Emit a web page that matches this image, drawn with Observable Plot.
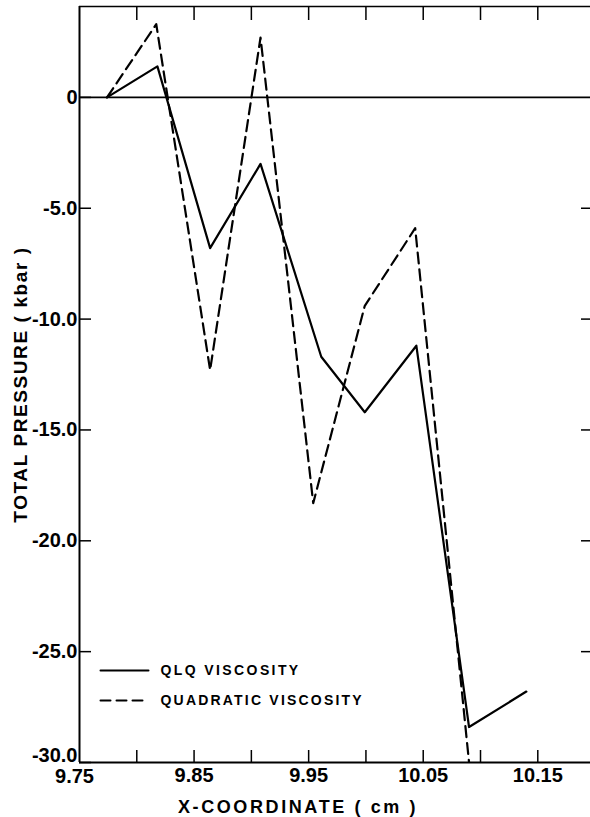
<!DOCTYPE html>
<html><head><meta charset="utf-8">
<script src="https://cdn.jsdelivr.net/npm/d3@7"></script>
<script src="https://cdn.jsdelivr.net/npm/@observablehq/plot@0.6"></script>
<style>
body{margin:0;background:#fff}
svg text{font-family:"Liberation Sans",Arial,sans-serif;fill:#000;font-weight:bold}
</style></head><body><div id="chart"></div>
<script>
// QLQ viscosity (solid)
const xQLQ = [9.774, 9.818, 9.864, 9.908, 9.961, 9.999, 10.044, 10.090, 10.140];
const yQLQ = [0, 1.4, -6.8, -3.0, -11.7, -14.2, -11.2, -28.4, -26.8];
// Quadratic viscosity (dashed)
const xQuad = [9.774, 9.817, 9.864, 9.908, 9.954, 9.999, 10.043, 10.090];
const yQuad = [0, 3.3, -12.3, 2.7, -18.3, -9.4, -5.9, -30.0];

const seriesNames = ["QLQ VISCOSITY", "QUADRATIC VISCOSITY"];
const xTicks = [9.80, 9.85, 9.90, 9.95, 10.00, 10.05, 10.10, 10.15];
const xTickLabels = [9.75, 9.85, 9.95, 10.05, 10.15];
const yTicks = [0, -5, -10, -15, -20, -25, -30];
const xDomain = [9.75, 10.196];
const yDomain = [-30, 4.1];
const xTitle = "X-COORDINATE ( cm )";
const yTitle = "TOTAL PRESSURE ( kbar )";

const qlq = xQLQ.map((x, i) => ({x, y: yQLQ[i]}));
const quad = xQuad.map((x, i) => ({x, y: yQuad[i]}));
const yFmt = d => d === 0 ? "0" : d.toFixed(1);
const lineShape = {draw(ctx, l) { ctx.moveTo(0, 0); ctx.lineTo(0, -l); }};

const chart = Plot.plot({
  width: 590, height: 817,
  marginLeft: 79, marginRight: 0, marginTop: 6, marginBottom: 55,
  x: {domain: xDomain, axis: null},
  y: {domain: yDomain, axis: null},
  style: {fontSize: "20px", background: "#fff"},
  marks: [
    Plot.ruleY([0], {stroke: "#000", strokeWidth: 1.6}),
    Plot.ruleX([xDomain[0]], {stroke: "#000", strokeWidth: 2}),
    Plot.ruleY([yDomain[0]], {stroke: "#000", strokeWidth: 2}),
    Plot.ruleY([yDomain[1]], {stroke: "#000", strokeWidth: 1.6}),
    Plot.axisX(xTicks, {anchor: "bottom", tickSize: -12, tickFormat: () => "", label: null, strokeWidth: 1.5}),
    Plot.axisX(xTicks, {anchor: "top", tickSize: -13, tickFormat: () => "", label: null, strokeWidth: 1.5}),
    Plot.axisX(xTickLabels.slice(0, 1), {anchor: "bottom", tickSize: 0, tickPadding: 6, dx: -5, tickFormat: d => d.toFixed(2), label: null, fontSize: 20}),
    Plot.axisX(xTickLabels.slice(1), {anchor: "bottom", tickSize: 0, tickPadding: 5, tickFormat: d => d.toFixed(2), label: null, fontSize: 20}),
    Plot.axisY(yTicks, {anchor: "left", tickSize: -12, tickFormat: () => "", label: null, strokeWidth: 1.5}),
    Plot.axisY(yTicks.slice(0, -1), {anchor: "left", tickSize: 0, tickPadding: 2, tickFormat: yFmt, label: null, fontSize: 20}),
    Plot.axisY(yTicks.slice(-1), {anchor: "left", tickSize: 0, tickPadding: 2, dy: -7, tickFormat: yFmt, label: null, fontSize: 20}),
    Plot.axisY(yTicks.slice(1, -1), {anchor: "right", tickSize: -10, tickFormat: () => "", label: null, strokeWidth: 1.5}),
    Plot.line(qlq, {x: "x", y: "y", stroke: "#000", strokeWidth: 2.2, clip: true}),
    Plot.line(quad, {x: "x", y: "y", stroke: "#000", strokeWidth: 2.2, strokeDasharray: "11,6", clip: true}),
    Plot.vector([seriesNames[0]], {frameAnchor: "bottom-left", dx: 21, dy: -92, length: 48, rotate: 90, anchor: "start", shape: lineShape, stroke: "#000", strokeWidth: 2}),
    Plot.vector([seriesNames[1]], {frameAnchor: "bottom-left", dx: 21, dy: -62, length: 48, rotate: 90, anchor: "start", shape: lineShape, stroke: "#000", strokeWidth: 2, strokeDasharray: "10,6"}),
    Plot.text([seriesNames[0]], {frameAnchor: "bottom-left", text: d => d, dx: 81, dy: -92, textAnchor: "start", lineAnchor: "middle", fontSize: 14}),
    Plot.text([seriesNames[1]], {frameAnchor: "bottom-left", text: d => d, dx: 81, dy: -62, textAnchor: "start", lineAnchor: "middle", fontSize: 14}),
    Plot.text([yTitle], {frameAnchor: "left", text: d => d, dx: -59, rotate: -90, textAnchor: "middle", lineAnchor: "middle", fontSize: 19}),
    Plot.text([xTitle], {frameAnchor: "bottom", text: d => d, dx: -37, dy: 44.5, textAnchor: "middle", lineAnchor: "middle", fontSize: 18})
  ]
});
const spacing = new Map([[seriesNames[0], "2.4px"], [seriesNames[1], "2.2px"], [yTitle, "1.6px"], [xTitle, "2.6px"]]);
d3.select(chart).selectAll("text").each(function() {
  const s = spacing.get(this.textContent);
  if (s) this.style.letterSpacing = s;
});
document.getElementById("chart").appendChild(chart);
</script></body></html>
